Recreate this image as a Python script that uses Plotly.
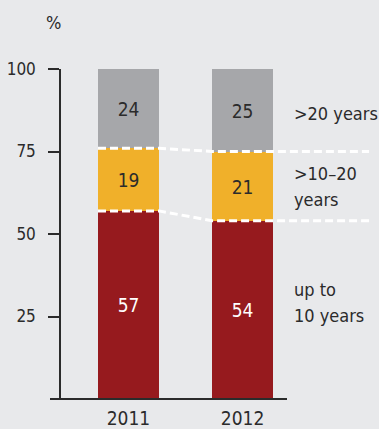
import plotly.graph_objects as go

# Share of holdings by remaining term, in percent
years = ["2011", "2012"]
up_to_10 = [57, 54]
from_10_to_20 = [19, 21]
over_20 = [24, 25]
series_names = [["up to", "10 years"], [">10–20", "years"], [">20 years"]]
y_ticks = [25, 50, 75, 100]

BG = "#e8e9eb"
INK = "#2b2b2b"
RED = "#961a1e"
YELLOW = "#f0b02a"
GREY = "#a6a7aa"
FONT = "DejaVu Sans Condensed, DejaVu Sans, sans-serif"
LABEL_SIZE = 19
SIDE_SIZE = 18
TICK_SIZE = 17

W, H = 379, 429
ML, MR, MT, MB = 61, 0, 69, 30
PW, PH = W - ML - MR, H - MT - MB
xs = list(range(len(years)))
bar_w = 0.535
x_lo, x_hi = -0.592, 2.197

fig = go.Figure()
stack = [
    (up_to_10, RED, "white"),
    (from_10_to_20, YELLOW, INK),
    (over_20, GREY, INK),
]
for vals, color, tcolor in stack:
    fig.add_trace(go.Bar(
        x=xs, y=vals, width=bar_w, marker=dict(color=color, line=dict(width=0)),
        text=[str(v) for v in vals], textposition="inside", insidetextanchor="middle",
        textangle=0, constraintext="none",
        textfont=dict(family=FONT, size=LABEL_SIZE, color=tcolor),
        showlegend=False, hoverinfo="skip",
    ))

# Dashed connectors along the segment boundaries
lower = up_to_10
upper = [a + b for a, b in zip(up_to_10, from_10_to_20)]
x_end = 2.11
for level in (lower, upper):
    lx, ly = [], []
    for i, v in zip(xs, level):
        lx += [i - bar_w / 2, i + bar_w / 2]
        ly += [v, v]
    lx.append(x_end)
    ly.append(level[-1])
    fig.add_trace(go.Scatter(
        x=lx, y=ly, mode="lines",
        line=dict(color="white", width=3, dash="8px,4px"),
        showlegend=False, hoverinfo="skip", cliponaxis=False,
    ))

# Series labels to the right of the last bar, one line at a time
last = len(years) - 1
bottoms = [0, up_to_10[last], upper[last]]
tops = [up_to_10[last], upper[last], 100]
nudges = [7, 0, -3]
line_gap = 26
for lines, b, t, nudge in zip(series_names, bottoms, tops, nudges):
    n = len(lines)
    for k, line in enumerate(lines):
        fig.add_annotation(
            x=1.434, y=(b + t) / 2, xref="x", yref="y", text=line, showarrow=False,
            xanchor="left", yanchor="middle", align="left",
            yshift=nudge + ((n - 1) / 2 - k) * line_gap,
            font=dict(family=FONT, size=SIDE_SIZE, color=INK),
        )

fig.add_annotation(
    x=(53 - ML) / PW, y=(H - MB - 22) / PH, xref="paper", yref="paper",
    text="%", showarrow=False, xanchor="center", yanchor="middle",
    font=dict(family=FONT, size=SIDE_SIZE, color=INK),
)

# Horizontal baseline, running a little to the left of the y axis
fig.add_shape(
    type="line", xref="paper", yref="paper",
    x0=(50 - ML) / PW, x1=(287 - ML) / PW, y0=0, y1=0,
    line=dict(color=INK, width=2), layer="above",
)

fig.update_layout(
    width=W, height=H, margin=dict(l=ML, r=MR, t=MT, b=MB),
    paper_bgcolor=BG, plot_bgcolor=BG, barmode="stack", bargap=0,
    font=dict(family=FONT, size=TICK_SIZE, color=INK),
    xaxis=dict(range=[x_lo, x_hi], tickvals=xs, ticktext=years, showline=False,
               showgrid=False, zeroline=False, ticks="", ticklabelstandoff=6,
               tickfont=dict(size=LABEL_SIZE), fixedrange=True),
    yaxis=dict(range=[0, 100], tickvals=y_ticks, showline=True, linecolor=INK,
               linewidth=1.5, ticks="outside", ticklen=11, tickcolor=INK,
               tickwidth=1.5, showgrid=False, zeroline=False,
               ticklabelstandoff=9, fixedrange=True),
)

fig.write_html("out.html")
